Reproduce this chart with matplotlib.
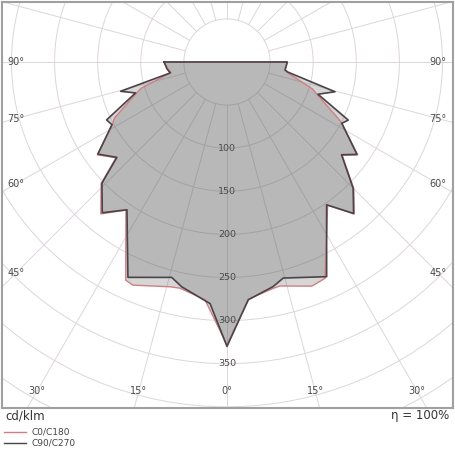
import numpy as np
import matplotlib.pyplot as plt
from matplotlib.patches import Circle

# luminous intensity (cd/klm), gamma in degrees
# C0/C180 plane (red)
g_c180 = [0, 5.3, 11.7, 14.2, 22.9, 24.9, 34.3, 39.7, 46, 49.2, 54.4, 61.2, 63.5, 71.3, 73, 79.3, 83.5, 90]
i_c180 = [328, 277, 268, 269, 281, 279, 208, 229, 203, 170, 185, 152, 146, 110, 104, 66, 69, 73]
g_c0 = [0, 5.3, 11.6, 13.3, 20.7, 22.1, 24.4, 35.1, 39.9, 45, 51, 54.6, 61.9, 63.2, 70.5, 72.5, 80.5, 82.1, 90]
i_c0 = [328, 276, 268, 267, 278, 277, 275.5, 203, 230, 208, 172, 186, 151, 144, 110, 104, 70, 68, 70]
# C90/C270 plane (dark)
g_c270 = [0, 4.0, 11.4, 14.4, 24.7, 34.1, 39.6, 45.9, 49.1, 54.5, 61.4, 64.3, 71.3, 74.6, 79.1, 83.3, 90]
i_c270 = [330, 281, 266, 258, 275, 207, 227, 202, 169, 184, 152, 155, 112, 128, 67, 70, 73]
g_c90 = [0, 5.1, 11.6, 14.6, 24.9, 34.9, 39.9, 45, 51, 54.6, 61.9, 64.4, 70.5, 74.6, 80.5, 82.1, 90]
i_c90 = [330, 277, 266, 259, 274.6, 202, 229, 207, 171, 185, 151, 156, 112, 130, 72, 68, 70]

rings = [50, 100, 150, 200, 250, 300, 350, 400, 450, 500]
ring_labels = [100, 150, 200, 250, 300, 350]
side_angles = [90, 75, 60, 45]
bottom_angles = [30, 15, 0]


def outline(g_left, i_left, g_right, i_right):
    gl = np.radians(g_left[::-1])
    il = np.array(i_left[::-1], float)
    gr = np.radians(g_right)
    ir = np.array(i_right, float)
    x = np.concatenate([-il * np.sin(gl), ir * np.sin(gr)])
    y = np.concatenate([-il * np.cos(gl), -ir * np.cos(gr)])
    return np.append(x, x[0]), np.append(y, y[0])


W, H = 455, 450
fig = plt.figure(figsize=(W / 100, H / 100), dpi=100)
ax = fig.add_axes([2 / W, 1 - 408 / H, 451 / W, 406 / H])
ax.set_xlim(-261.0, 262.2)
ax.set_ylim(-401.4, 69.6)
ax.set_xticks([])
ax.set_yticks([])
for s in ax.spines.values():
    s.set_color('#a0a0a0')
    s.set_linewidth(1.5)

grid_col = '#dcd6dc'
for r in rings:
    ax.add_patch(Circle((0, 0), r, fill=False, ec=grid_col, lw=0.7, zorder=1))
for a in np.arange(0, 360, 15):
    t = np.radians(a)
    ax.plot([50 * np.sin(t), 700 * np.sin(t)], [-50 * np.cos(t), -700 * np.cos(t)],
            color=grid_col, lw=0.7, zorder=1)

red = '#d07f84'
dark = '#4a4448'
x1, y1 = outline(g_c180, i_c180, g_c0, i_c0)
x2, y2 = outline(g_c270, i_c270, g_c90, i_c90)
ax.fill(x1, y1, color='#5f5f5f', alpha=0.25, lw=0, zorder=2)
ax.fill(x2, y2, color='#5f5f5f', alpha=0.25, lw=0, zorder=2)
ax.plot(x1, y1, color=red, lw=1.0, zorder=3)
ax.plot(x2, y2, color=dark, lw=1.2, zorder=4)

txt = '#4a4a4a'
for r in ring_labels:
    ax.text(0, -r, str(r), ha='center', va='center', fontsize=6.8, color=txt, zorder=5)

xs = 244.8
for a in side_angles:
    y = 0 if a == 90 else -xs / np.tan(np.radians(a))
    ax.text(-xs, y, f'{a}°', ha='center', va='center', fontsize=7, color=txt, zorder=5)
    ax.text(xs, y, f'{a}°', ha='center', va='center', fontsize=7, color=txt, zorder=5)
yb = -381.7
for a in bottom_angles:
    x = -yb * np.tan(np.radians(a))
    ax.text(-x, yb, f'{a}°', ha='center', va='center', fontsize=7, color=txt, zorder=5)
    if a:
        ax.text(x, yb, f'{a}°', ha='center', va='center', fontsize=7, color=txt, zorder=5)

fig.text(5 / W, 1 - 416 / H, 'cd/klm', ha='left', va='center', fontsize=8.5, color='#333333')
fig.text(449 / W, 1 - 416 / H, 'η = 100%', ha='right', va='center', fontsize=8.5, color='#333333')
for k, (lab, col) in enumerate([('C0/C180', red), ('C90/C270', dark)]):
    yy = 1 - (432 + 11 * k) / H
    fig.add_artist(plt.Line2D([4 / W, 26 / W], [yy, yy], color=col, lw=1.0))
    fig.text(32 / W, yy, lab, ha='left', va='center', fontsize=6.5, color='#444444')

fig.savefig('out.png', dpi=100)
